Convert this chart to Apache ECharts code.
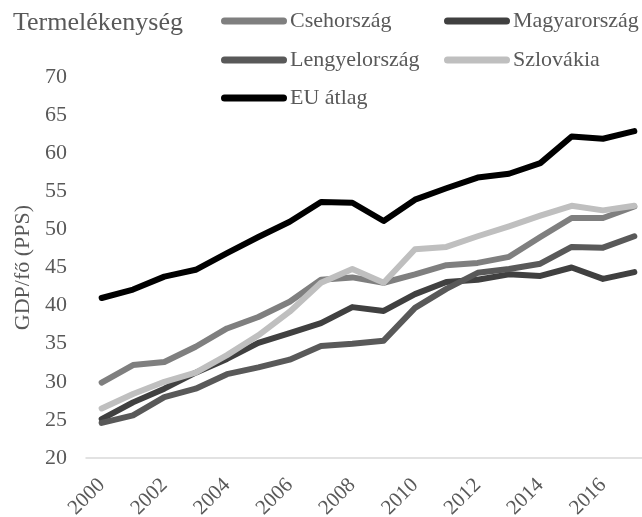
<!DOCTYPE html>
<html><head><meta charset="utf-8">
<script src="https://cdn.jsdelivr.net/npm/echarts@6/dist/echarts.min.js"></script>
<style>html,body{margin:0;padding:0;background:#fff}#c{width:642px;height:517px}</style>
</head><body><div id="c"></div>
<script>
const years = ['2000','2001','2002','2003','2004','2005','2006','2007','2008','2009','2010','2011','2012','2013','2014','2015','2016','2017'];
const cseh = [29.9,32.2,32.6,34.6,37.0,38.5,40.5,43.4,43.7,43.0,44.1,45.3,45.6,46.4,49.0,51.5,51.5,53.0];
const magyar = [25.1,27.3,29.1,31.2,33.0,35.1,36.4,37.7,39.8,39.3,41.5,43.1,43.4,44.1,43.9,45.0,43.5,44.4];
const lengyel = [24.6,25.6,28.0,29.1,31.0,31.9,32.9,34.7,35.0,35.4,39.7,42.2,44.3,44.8,45.5,47.7,47.6,49.1];
const szlovak = [26.5,28.4,30.0,31.2,33.5,36.1,39.2,43.0,44.8,43.0,47.4,47.7,49.1,50.4,51.8,53.1,52.5,53.1];
const eu = [41.0,42.1,43.8,44.7,46.9,49.0,51.0,53.6,53.5,51.1,53.9,55.4,56.8,57.3,58.7,62.2,61.9,62.9];
const yTicks = {min:20, max:70, interval:5};

const names = ['Csehország','Magyarország','Lengyelország','Szlovákia','EU átlag'];
const colors = ['#7f7f7f','#404040','#595959','#bfbfbf','#000000'];
const datas = [cseh, magyar, lengyel, szlovak, eu];
const font = "'Liberation Serif', 'Times New Roman', serif";
const pill = 'path://M3.5,0 L62.5,0 A3.5,3.5 0 0 1 62.5,7 L3.5,7 A3.5,3.5 0 0 1 3.5,0 Z';
const legendPos = [[221,10],[444,10],[221,49],[444,49],[221,87]];

const chart = echarts.init(document.getElementById('c'), null, {renderer:'canvas'});
chart.setOption({
  animation:false,
  title:{text:'Termelékenység', left:8, top:5, textStyle:{fontFamily:font, fontSize:26, fontWeight:'normal', color:'#595959'}},
  legend: names.map((n,i)=>({
    data:[n], left:legendPos[i][0], top:legendPos[i][1], padding:0, icon:pill, itemWidth:66, itemHeight:7, itemGap:0,
    textStyle:{fontFamily:font, fontSize:22, color:'#595959', padding:[0,0,0,-2]}
  })),
  grid:{left:86, right:-8, top:77, bottom:59, containLabel:false, outerBoundsMode:'none'},
  xAxis:{type:'category', data:years, boundaryGap:true,
    axisLine:{lineStyle:{color:'#d9d9d9', width:1.5}}, axisTick:{show:false},
    axisLabel:{interval:1, rotate:45, fontFamily:font, fontSize:21, color:'#595959', margin:24}},
  yAxis:{type:'value', min:yTicks.min, max:yTicks.max, interval:yTicks.interval,
    name:'GDP/fő (PPS)', nameLocation:'middle', nameGap:46, nameRotate:90,
    nameTextStyle:{fontFamily:font, fontSize:22, color:'#595959'},
    axisLine:{show:false}, axisTick:{show:false}, splitLine:{show:false},
    axisLabel:{fontFamily:font, fontSize:22, color:'#595959', margin:19}},
  series: names.map((n,i)=>({
    name:n, type:'line', data:datas[i], showSymbol:false, symbol:'none',
    itemStyle:{color:colors[i]},
    lineStyle:{color:colors[i], width:6, cap:'round', join:'round'}
  }))
});
</script></body></html>
